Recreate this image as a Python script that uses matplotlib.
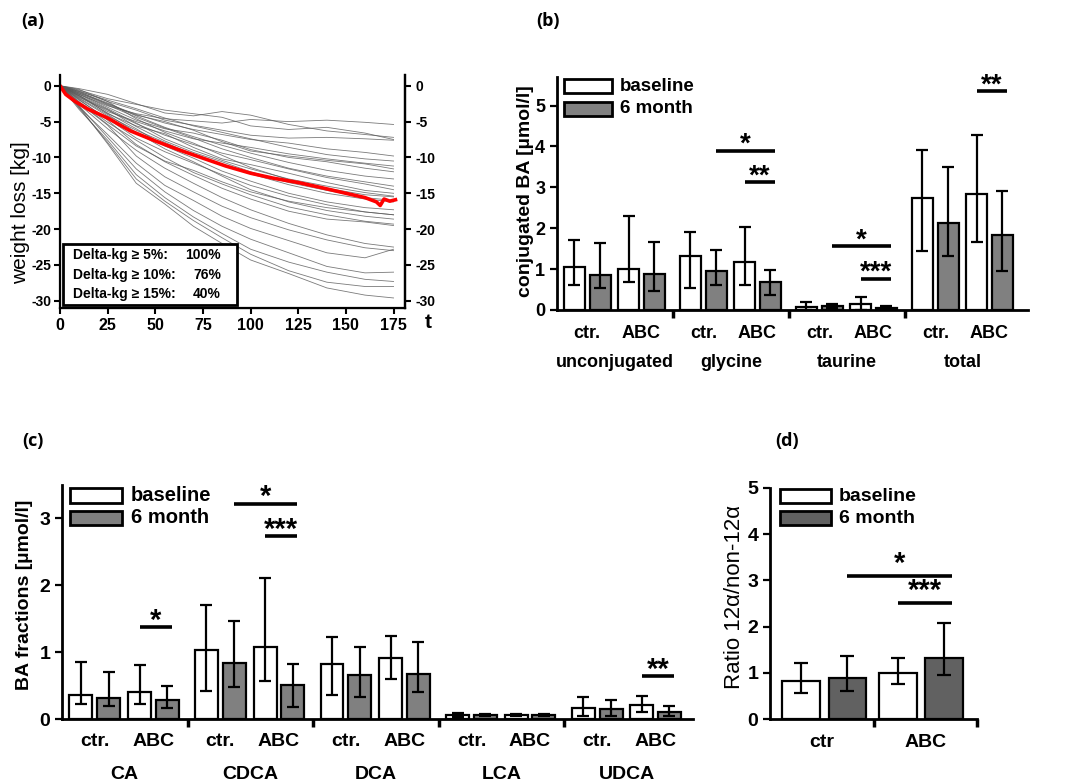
import matplotlib
matplotlib.use('Agg')
import matplotlib.pyplot as plt
from matplotlib.patches import Rectangle
from matplotlib.transforms import blended_transform_factory

plt.rcParams['font.family'] = ['Liberation Sans', 'DejaVu Sans']
plt.rcParams['axes.unicode_minus'] = False

# ---------------- data: panel (a), individual weight courses ----------------
days = [0, 10, 25, 40, 55, 70, 85, 100, 120, 140, 160, 175]
weight_courses = [
    [0, -1.2, -2.8, -3.9, -4.6, -4.9, -5.2, -4.7, -5.0, -4.8, -5.1, -5.4],
    [0, -0.6, -1.8, -2.6, -3.4, -3.9, -4.4, -5.6, -6.1, -5.8, -6.6, -7.5],
    [0, -0.4, -1.2, -2.5, -3.8, -4.2, -3.6, -4.1, -5.4, -6.3, -6.8, -7.2],
    [0, -1.0, -2.5, -4.0, -5.2, -6.1, -6.8, -7.5, -8.0, -8.8, -9.3, -9.8],
    [0, -0.8, -2.0, -3.2, -4.5, -5.6, -6.5, -7.4, -8.6, -9.6, -10.2, -10.5],
    [0, -1.4, -3.6, -5.0, -6.3, -7.4, -8.0, -8.6, -9.5, -10.2, -10.8, -11.2],
    [0, -1.1, -3.0, -4.8, -6.0, -6.6, -7.6, -8.9, -10.0, -10.6, -11.5, -12.0],
    [0, -0.9, -2.4, -4.2, -5.8, -7.1, -8.3, -9.4, -10.7, -11.8, -12.6, -13.0],
    [0, -1.6, -3.4, -5.3, -6.9, -8.2, -9.4, -10.3, -11.6, -12.8, -13.7, -14.5],
    [0, -1.3, -3.9, -5.6, -6.7, -8.6, -10.2, -11.0, -12.2, -13.5, -14.6, -15.0],
    [0, -0.7, -2.2, -4.6, -6.5, -8.0, -9.7, -11.4, -13.1, -14.3, -15.2, -15.5],
    [0, -1.8, -4.2, -6.2, -7.9, -9.6, -11.0, -12.3, -13.8, -15.0, -15.8, -16.2],
    [0, -1.5, -3.8, -6.0, -8.4, -10.1, -11.9, -13.3, -15.0, -16.2, -17.0, -17.3],
    [0, -2.0, -4.6, -7.3, -9.2, -10.8, -12.4, -13.9, -15.4, -16.6, -17.6, -18.0],
    [0, -1.7, -4.0, -6.5, -8.8, -10.6, -12.6, -14.5, -16.2, -17.4, -18.2, -18.6],
    [0, -2.2, -5.1, -7.6, -10.0, -12.1, -13.7, -15.2, -16.9, -18.0, -18.9, -19.3],
    [0, -1.9, -4.8, -8.2, -10.6, -12.5, -14.3, -15.8, -17.5, -18.6, -19.0, -19.5],
    [0, -2.6, -6.0, -9.0, -11.5, -13.6, -15.6, -17.3, -19.2, -20.8, -22.0, -22.5],
    [0, -2.4, -5.5, -9.8, -12.7, -14.8, -16.8, -18.4, -20.1, -21.5, -22.6, -23.0],
    [0, -3.0, -6.8, -10.8, -13.9, -16.0, -18.2, -19.9, -21.6, -23.3, -24.0, -22.8],
    [0, -2.8, -7.2, -11.6, -14.8, -17.4, -19.6, -21.4, -23.3, -25.2, -26.1, -26.0],
    [0, -3.3, -7.6, -12.4, -15.6, -18.3, -20.6, -22.8, -24.6, -26.0, -27.0, -27.3],
    [0, -3.1, -7.9, -13.0, -16.1, -18.8, -21.2, -23.5, -25.8, -27.4, -28.0, -28.0],
    [0, -2.9, -8.1, -13.6, -16.5, -19.6, -22.0, -24.3, -26.2, -28.2, -29.2, -29.6],
    [0, -0.5, -2.2, -3.4, -4.8, -5.5, -6.2, -6.9, -7.3, -7.2, -7.4, -7.6],
    [0, -1.0, -2.7, -4.4, -5.9, -7.3, -8.8, -10.0, -11.5, -12.6, -13.4, -14.0],
    [0, -1.2, -3.2, -5.2, -7.4, -9.0, -10.4, -11.6, -13.0, -14.0, -14.9, -15.4],
    [0, -2.3, -5.4, -8.4, -10.5, -11.8, -13.4, -14.8, -16.1, -17.0, -17.6, -18.0],
    [0, -0.8, -2.6, -4.1, -5.0, -6.2, -7.8, -9.1, -9.8, -10.4, -10.9, -11.6],
    [0, -1.4, -3.3, -5.7, -7.7, -9.3, -10.6, -12.0, -13.5, -14.6, -15.6, -16.0],
]
mean_days = [0, 3, 8, 15, 25, 37, 50, 62, 75, 87, 100, 112, 125, 137, 150, 160, 166, 168, 170, 173, 176]
mean_loss = [0, -1.2, -2.2, -3.3, -4.5, -6.3, -7.7, -8.9, -10.1, -11.2, -12.2, -12.9,
             -13.5, -14.2, -15.0, -15.6, -16.2, -16.7, -15.8, -16.1, -15.9]
loss_thresholds = [5, 10, 15]
reached_pct = [100, 76, 40]

# ---------------- data: panel (b), conjugated BA ----------------
# order: unconj ctr, unconj ABC, glycine ctr, glycine ABC, taurine ctr, taurine ABC, total ctr, total ABC
groups_b = ['unconjugated', 'glycine', 'taurine', 'total']
baseline_b = [1.06, 1.00, 1.32, 1.17, 0.08, 0.14, 2.75, 2.84]
baseline_b_lo = [0.60, 0.69, 0.54, 0.61, 0.00, 0.00, 1.45, 1.66]
baseline_b_hi = [1.72, 2.30, 1.90, 2.04, 0.19, 0.32, 3.91, 4.28]
month6_b = [0.85, 0.88, 0.96, 0.68, 0.10, 0.06, 2.12, 1.83]
month6_b_lo = [0.53, 0.47, 0.62, 0.36, 0.04, 0.03, 1.31, 0.96]
month6_b_hi = [1.63, 1.67, 1.46, 0.98, 0.14, 0.09, 3.50, 2.92]
# (from bar, to bar, height, label); bars numbered left to right
signif_b = [(5, 7, 3.90, '*'), (6, 7, 3.12, '**'),
            (9, 11, 1.57, '*'), (10, 11, 0.77, '***'),
            (14, 15, 5.35, '**')]

# ---------------- data: panel (c), BA fractions ----------------
groups_c = ['CA', 'CDCA', 'DCA', 'LCA', 'UDCA']
baseline_c = [0.36, 0.41, 1.03, 1.08, 0.83, 0.91, 0.06, 0.065, 0.17, 0.21]
baseline_c_lo = [0.23, 0.23, 0.42, 0.57, 0.36, 0.60, 0.035, 0.05, 0.05, 0.10]
baseline_c_hi = [0.85, 0.81, 1.71, 2.11, 1.22, 1.24, 0.085, 0.08, 0.33, 0.35]
month6_c = [0.31, 0.29, 0.84, 0.51, 0.66, 0.67, 0.06, 0.055, 0.155, 0.10]
month6_c_lo = [0.20, 0.16, 0.48, 0.18, 0.33, 0.40, 0.045, 0.04, 0.05, 0.04]
month6_c_hi = [0.71, 0.50, 1.46, 0.83, 1.08, 1.15, 0.07, 0.07, 0.29, 0.20]
signif_c = [(2, 3, 1.37, '*'), (5, 7, 3.22, '*'), (6, 7, 2.73, '***'),
            (18, 19, 0.64, '**')]

# ---------------- data: panel (d), ratio 12a / non-12a ----------------
groups_d = ['ctr', 'ABC']
baseline_d = [0.83, 0.99]
baseline_d_lo = [0.56, 0.76]
baseline_d_hi = [1.21, 1.31]
month6_d = [0.88, 1.31]
month6_d_lo = [0.60, 0.95]
month6_d_hi = [1.36, 2.08]
signif_d = [(1, 3, 3.10, '*'), (2, 3, 2.51, '***')]

OFFSETS = [0.6, 1.49, 2.47, 3.35]
BAR_W = 0.73

fig = plt.figure(figsize=(10.72, 7.84), dpi=100)


def px_axes(left, top, right, bottom):
    W, H = 1072, 784
    return fig.add_axes([left / W, 1 - bottom / H, (right - left) / W, (bottom - top) / H])


def bar_positions(n_bars):
    return [(k // 4) * 4 + OFFSETS[k % 4] for k in range(n_bars)]


def bar_panel(ax, base, base_lo, base_hi, m6, m6_lo, m6_hi, gray, fs, cap, signif, star_fs, star_gap):
    n = len(base)
    pos = bar_positions(2 * n)
    pb = pos[0::2]
    pm = pos[1::2]
    for p, v, lo, hi, fc in ([(pb, base, base_lo, base_hi, 'white'), (pm, m6, m6_lo, m6_hi, gray)]):
        ax.bar(p, v, width=BAR_W, color=fc, edgecolor='black', linewidth=1.6, zorder=2)
        err = [[a - b for a, b in zip(v, lo)], [b - a for a, b in zip(v, hi)]]
        ax.errorbar(p, v, yerr=err, fmt='none', ecolor='black', elinewidth=1.6,
                    capsize=cap, capthick=1.6, zorder=3)
    for i, j, y, lab in signif:
        x0, x1 = pos[i], pos[j] + 0.15
        ax.plot([x0, x1], [y, y], color='black', lw=2.6, solid_capstyle='butt', zorder=4)
        ax.annotate(lab, ((x0 + x1) / 2, y), xytext=(0, star_gap), textcoords='offset points',
                    ha='center', va='baseline', fontsize=star_fs, fontweight='bold')
    for s in ['top', 'right']:
        ax.spines[s].set_visible(False)
    for s in ['left', 'bottom']:
        ax.spines[s].set_linewidth(2)
    ax.tick_params(axis='y', labelsize=fs, width=1.6, length=5, direction='out')
    return pos


def bold_ticks(ax):
    for lab in ax.get_yticklabels() + ax.get_xticklabels():
        lab.set_fontweight('bold')


def legend_boxes(ax, x0, x1, y_rows, h, gray, fs, tx):
    for (yc, fc, lab) in zip(y_rows, ['white', gray], ['baseline', '6 month']):
        ax.add_patch(Rectangle((x0, yc - h / 2), x1 - x0, h, transform=ax.transAxes,
                               facecolor=fc, edgecolor='black', lw=2, clip_on=False, zorder=6))
        ax.text(tx, yc, lab, transform=ax.transAxes, fontsize=fs, fontweight='bold',
                ha='left', va='center')


def group_labels(ax, pos, groups, tick_y, group_y, fs, sub=('ctr.', 'ABC')):
    tr = blended_transform_factory(ax.transData, ax.transAxes)
    for g, name in enumerate(groups):
        for k in range(2):
            xc = (pos[4 * g + 2 * k] + pos[4 * g + 2 * k + 1]) / 2
            ax.text(xc, tick_y, sub[k], transform=tr, fontsize=fs, fontweight='bold',
                    ha='center', va='center')
        if group_y is not None:
            ax.text(g * 4 + 2, group_y, name, transform=tr, fontsize=fs, fontweight='bold',
                    ha='center', va='center')


# ---------------- panel (a) ----------------
ax_a = px_axes(60, 75, 405, 308)
for w in weight_courses:
    ax_a.plot(days, w, color='0.35', lw=0.6, alpha=0.8)
ax_a.plot(mean_days, mean_loss, color='red', lw=2.6, zorder=5)
ax_a.set_xlim(0, 181)
ax_a.set_ylim(-31, 1.5)
ax_a.set_xticks(range(0, 176, 25))
ax_a.set_yticks(range(-30, 1, 5))
ax_a.spines['top'].set_visible(False)
for s in ['left', 'bottom', 'right']:
    ax_a.spines[s].set_linewidth(1.6)
ax_a.tick_params(axis='x', labelsize=11.5, width=1.5, length=4)
ax_a.tick_params(axis='y', labelsize=10, width=1.5, length=4, pad=2)
bold_ticks(ax_a)
ax_a.set_ylabel('weight loss [kg]', fontsize=15)
ax_a.yaxis.set_label_coords(-0.088, 0.41)
ax_r = ax_a.twinx()
ax_r.set_ylim(ax_a.get_ylim())
ax_r.set_yticks(range(-30, 1, 5))
ax_r.spines['top'].set_visible(False)
ax_r.spines['right'].set_linewidth(1.6)
ax_r.tick_params(axis='y', labelsize=10, width=1.5, length=4)
bold_ticks(ax_r)

ax_a.add_patch(Rectangle((0.009, 0.013), 0.504, 0.262, transform=ax_a.transAxes,
                         facecolor='white', edgecolor='black', lw=2, zorder=6))
for k, (th, pc) in enumerate(zip(loss_thresholds, reached_pct)):
    yy = 0.227 - k * 0.084
    ax_a.text(0.038, yy, f'Delta-kg \u2265 {th}%:', transform=ax_a.transAxes, fontsize=10,
              fontweight='bold', ha='left', va='center', zorder=7)
    ax_a.text(0.467, yy, f'{pc}%', transform=ax_a.transAxes, fontsize=10,
              fontweight='bold', ha='right', va='center', zorder=7)
fig.text(428 / 1072, 1 - 323 / 784, 't', fontsize=15, fontweight='bold', ha='center', va='center')

# ---------------- panel (b) ----------------
ax_b = px_axes(557, 77, 1028, 310)
pos_b = bar_panel(ax_b, baseline_b, baseline_b_lo, baseline_b_hi, month6_b, month6_b_lo,
                  month6_b_hi, '0.5', 13, 4.3, signif_b, 20, -1)
ax_b.set_xlim(0, 16.24)
ax_b.set_ylim(0, 5.7)
ax_b.set_yticks(range(0, 6))
ax_b.set_xticks([4, 8, 12])
ax_b.set_xticklabels([])
ax_b.tick_params(axis='x', width=2.5, length=6)
bold_ticks(ax_b)
ax_b.set_ylabel('conjugated BA [\u00b5mol/l]', fontsize=14, fontweight='bold')
ax_b.yaxis.set_label_coords(-0.049, 0.51)
legend_boxes(ax_b, 0.015, 0.117, [0.961, 0.863], 0.06, '0.5', 13.5, 0.134)
group_labels(ax_b, pos_b, groups_b, -0.099, -0.227, 13)

# ---------------- panel (c) ----------------
ax_c = px_axes(62, 485, 693, 719)
pos_c = bar_panel(ax_c, baseline_c, baseline_c_lo, baseline_c_hi, month6_c, month6_c_lo,
                  month6_c_hi, '0.5', 14, 4.3, signif_c, 21, -1)
ax_c.set_xlim(0, 20.1)
ax_c.set_ylim(0, 3.5)
ax_c.set_yticks(range(0, 4))
ax_c.set_xticks([4, 8, 12, 16])
ax_c.set_xticklabels([])
ax_c.tick_params(axis='x', width=2.5, length=6)
bold_ticks(ax_c)
ax_c.set_ylabel('BA fractions [\u00b5mol/l]', fontsize=14, fontweight='bold')
ax_c.yaxis.set_label_coords(-0.046, 0.53)
legend_boxes(ax_c, 0.0127, 0.095, [0.955, 0.859], 0.062, '0.5', 14.5, 0.109)
group_labels(ax_c, pos_c, groups_c, -0.098, -0.239, 14)

# ---------------- panel (d) ----------------
ax_d = px_axes(770, 488, 977, 719)
pos_d = bar_panel(ax_d, baseline_d, baseline_d_lo, baseline_d_hi, month6_d, month6_d_lo,
                  month6_d_hi, '0.38', 14, 4.8, signif_d, 21, 3)
ax_d.set_xlim(0, 3.98)
ax_d.set_ylim(0, 5)
ax_d.set_yticks(range(0, 6))
ax_d.set_xticks([2, 3.98])
ax_d.set_xticklabels([])
ax_d.tick_params(axis='x', width=2.5, length=6)
bold_ticks(ax_d)
ax_d.set_ylabel('Ratio 12\u03b1/non-12\u03b1', fontsize=16)
ax_d.yaxis.set_label_coords(-0.12, 0.53)
legend_boxes(ax_d, 0.048, 0.295, [0.965, 0.870], 0.06, '0.38', 14, 0.333)
tr_d = blended_transform_factory(ax_d.transData, ax_d.transAxes)
for g, name in enumerate(groups_d):
    ax_d.text(g * 2 + 1, -0.10, name, transform=tr_d, fontsize=14, fontweight='bold',
              ha='center', va='center')

# ---------------- panel letters ----------------
for lab, x, y in [('(a)', 33, 21), ('(b)', 548, 21), ('(c)', 33, 441), ('(d)', 787, 441)]:
    fig.text(x / 1072, 1 - y / 784, lab, fontsize=13, fontweight='bold',
             family=['Open Sans', 'DejaVu Sans'], ha='center', va='center')

fig.savefig('out.png', dpi=100)
